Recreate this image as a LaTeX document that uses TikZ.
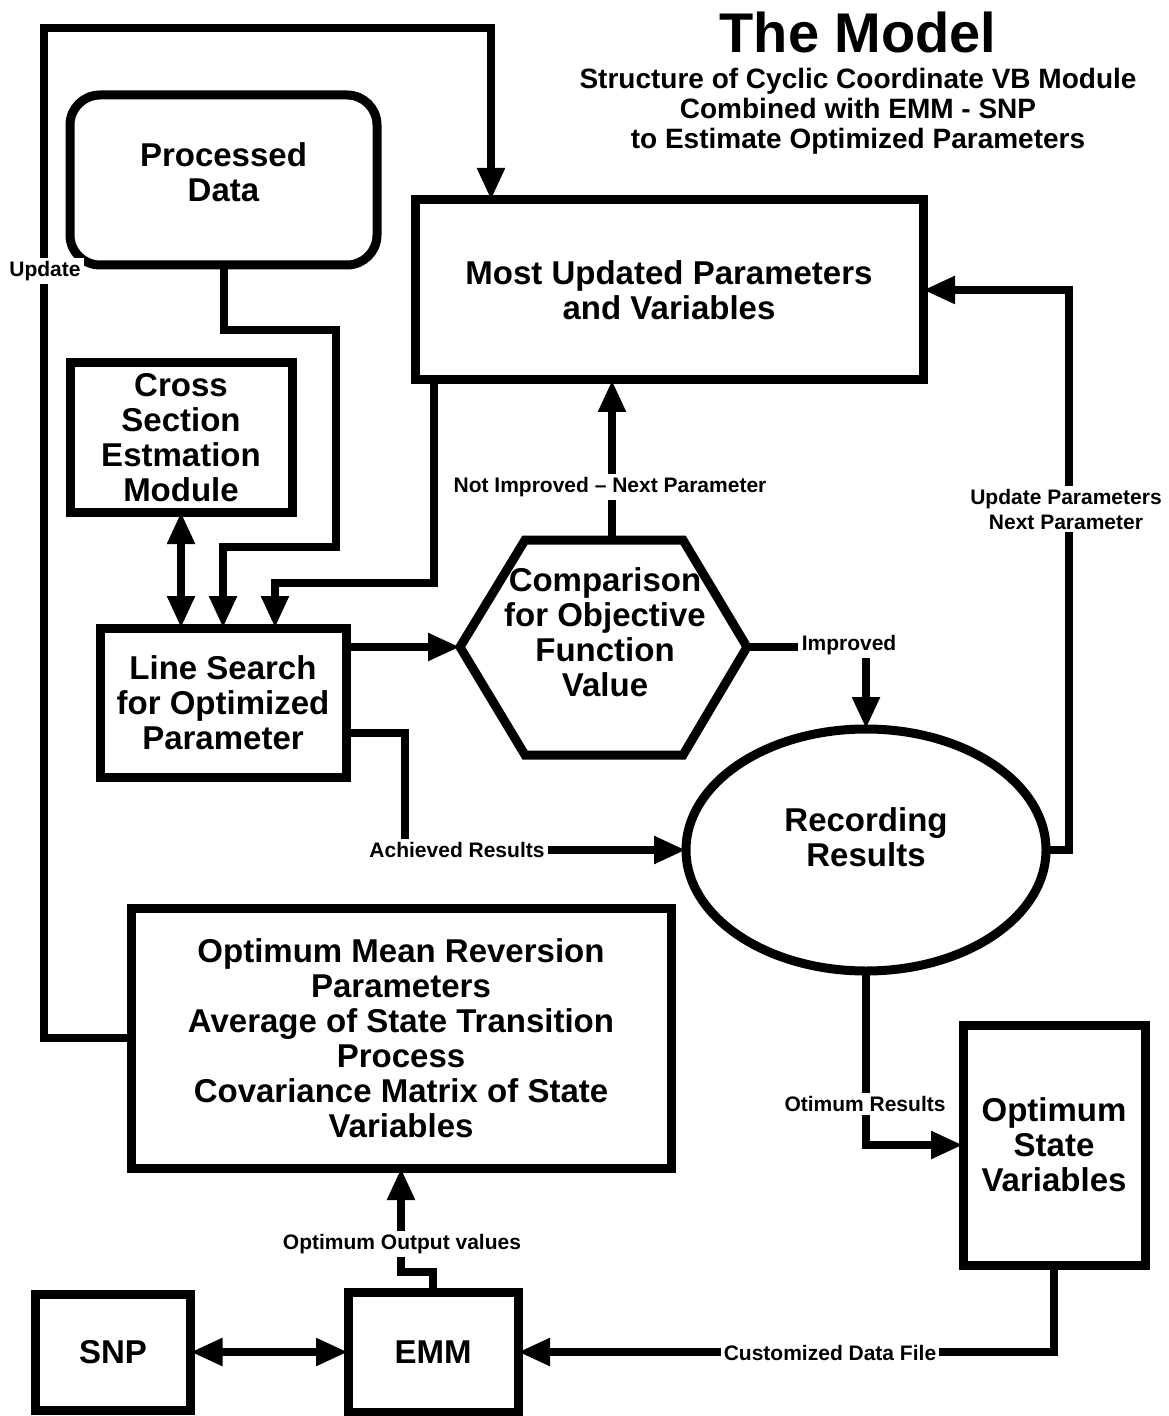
\documentclass[tikz,border=0pt]{standalone}
\usepackage{fontspec}
\setmainfont{Liberation Sans}
\usetikzlibrary{arrows.meta,shapes.geometric}

\tikzset{
	box/.style={draw,line width=4.5pt,align=center,inner sep=2pt,outer sep=0pt,
		font=\fontsize{16.5}{17.5}\selectfont\bfseries},
	lbl/.style={fill=white,inner sep=1.5pt,align=center,
		font=\fontsize{10.5}{12.5}\selectfont\bfseries},
	conn/.style={line width=4pt},
	tip/.style={-{Triangle[length=16pt,width=13pt]}},
	dtip/.style={{Triangle[length=16pt,width=13pt]}-{Triangle[length=16pt,width=13pt]}}
}

\begin{document}
\begin{tikzpicture}[x=0.5pt,y=-0.5pt]
\useasboundingbox (0,0) rectangle (1168,1416);

%Title
\node[font=\fontsize{28}{30}\selectfont\bfseries] (title) at (858,32) {The Model};
\node[font=\fontsize{14}{15}\selectfont\bfseries,align=center] (subtitle) at (858,111)
	{Structure of Cyclic Coordinate VB Module\\Combined with EMM - SNP\\to Estimate Optimized Parameters};

\begin{scope}[every node/.style={box}]
	%Upper part
	\node[rounded corners=15pt,minimum width=153.5pt,minimum height=85pt] (pdata) at (223.5,180) {};
	\node[draw=none] (pdatat) at (223.5,172) {Processed\\Data};
	\node[minimum width=254pt,minimum height=90pt] (mostup) at (669,290) {Most Updated Parameters\\and Variables};
	\node[minimum width=111pt,minimum height=74.5pt] (cross) at (181,437.5) {Cross\\Section\\Estmation\\Module};
	\node[minimum width=123pt,minimum height=74.5pt] (lsearch) at (223,702.5) {Line Search\\for Optimized\\Parameter};
	
	%Middle part
	\node[draw=none] (comp) at (605,632) {Comparison\\for Objective\\Function\\Value};
	\node[ellipse,minimum width=180pt,minimum height=121pt] (ell) at (866,850) {};
	\node[draw=none] (ellt) at (866,837) {Recording\\Results};
	
	%Lower part
	\node[minimum width=270pt,minimum height=130pt] (omr) at (401,1038) {Optimum Mean Reversion\\Parameters\\Average of State Transition\\Process\\Covariance Matrix of State\\Variables};
	\node[minimum width=91pt,minimum height=120pt] (osv) at (1054,1145) {Optimum\\State\\Variables};
	\node[minimum width=85pt,minimum height=60pt] (emm) at (433,1352) {EMM};
	\node[minimum width=77.5pt,minimum height=58pt] (snp) at (113,1352) {SNP};
\end{scope}

%Hexagon
\coordinate (comp-w) at (460,647);
\coordinate (comp-e) at (747,647);
\coordinate (comp-n) at (612,540);
\draw[line width=4.5pt] (comp-w) -- (525,540) -- (683,540) -- (comp-e) -- (683,755) -- (525,755) -- cycle;

\node[lbl] (limpr) at (849,645) {Improved};

\begin{scope}[conn]
	%Loops to the upper boxes
	\draw[tip] (omr.west) -| (44,28) -| ([xshift=-89pt]mostup.north);
	\draw[tip] (pdata.south) -- ++(0,65) -| (336,547) -| (lsearch.north);
	\draw[tip] ([xshift=-117.5pt]mostup.south) |- (275,583) -- ([xshift=26pt]lsearch.north);
	\draw[dtip] (cross.south) -- (cross.south |- lsearch.north);
	
	%Comparison
	\draw[tip] (lsearch.east |- comp-w) -- (comp-w);
	\draw[tip] (comp-n) -- (comp-n |- mostup.south);
	\draw (comp-e) -- (comp-e -| limpr.west);
	\draw[tip] (limpr.south -| ell.north) -- (ell.north);
	
	%Recording
	\draw[tip] ([yshift=-15pt]lsearch.east) -| (405,850) -- (ell.west);
	\draw[tip] (ell.east) -| (1069,290) -- (mostup.east);
	\draw[tip] (ell.south) |- (osv.west);
	
	%EMM and SNP
	\draw[tip] (osv.south) |- (emm.east);
	\draw[dtip] (snp.east) -- (emm.west);
	\draw[tip] (emm.north) -- ++(0,-20) -| (omr.south);
\end{scope}

%Labels
\node[lbl] (lupd) at (45,271) {Update};
\node[lbl] (lnot) at (610,487) {Not Improved -- Next Parameter};
\node[lbl] (lnext) at (1066,509) {Update Parameters\\Next Parameter};
\node[lbl] (lach) at (457,850) {Achieved Results};
\node[lbl] (lres) at (865,1104) {Otimum Results};
\node[lbl] (lout) at (402,1244) {Optimum Output values};
\node[lbl] (lcust) at (830,1353) {Customized Data File};

\end{tikzpicture}
\end{document}
